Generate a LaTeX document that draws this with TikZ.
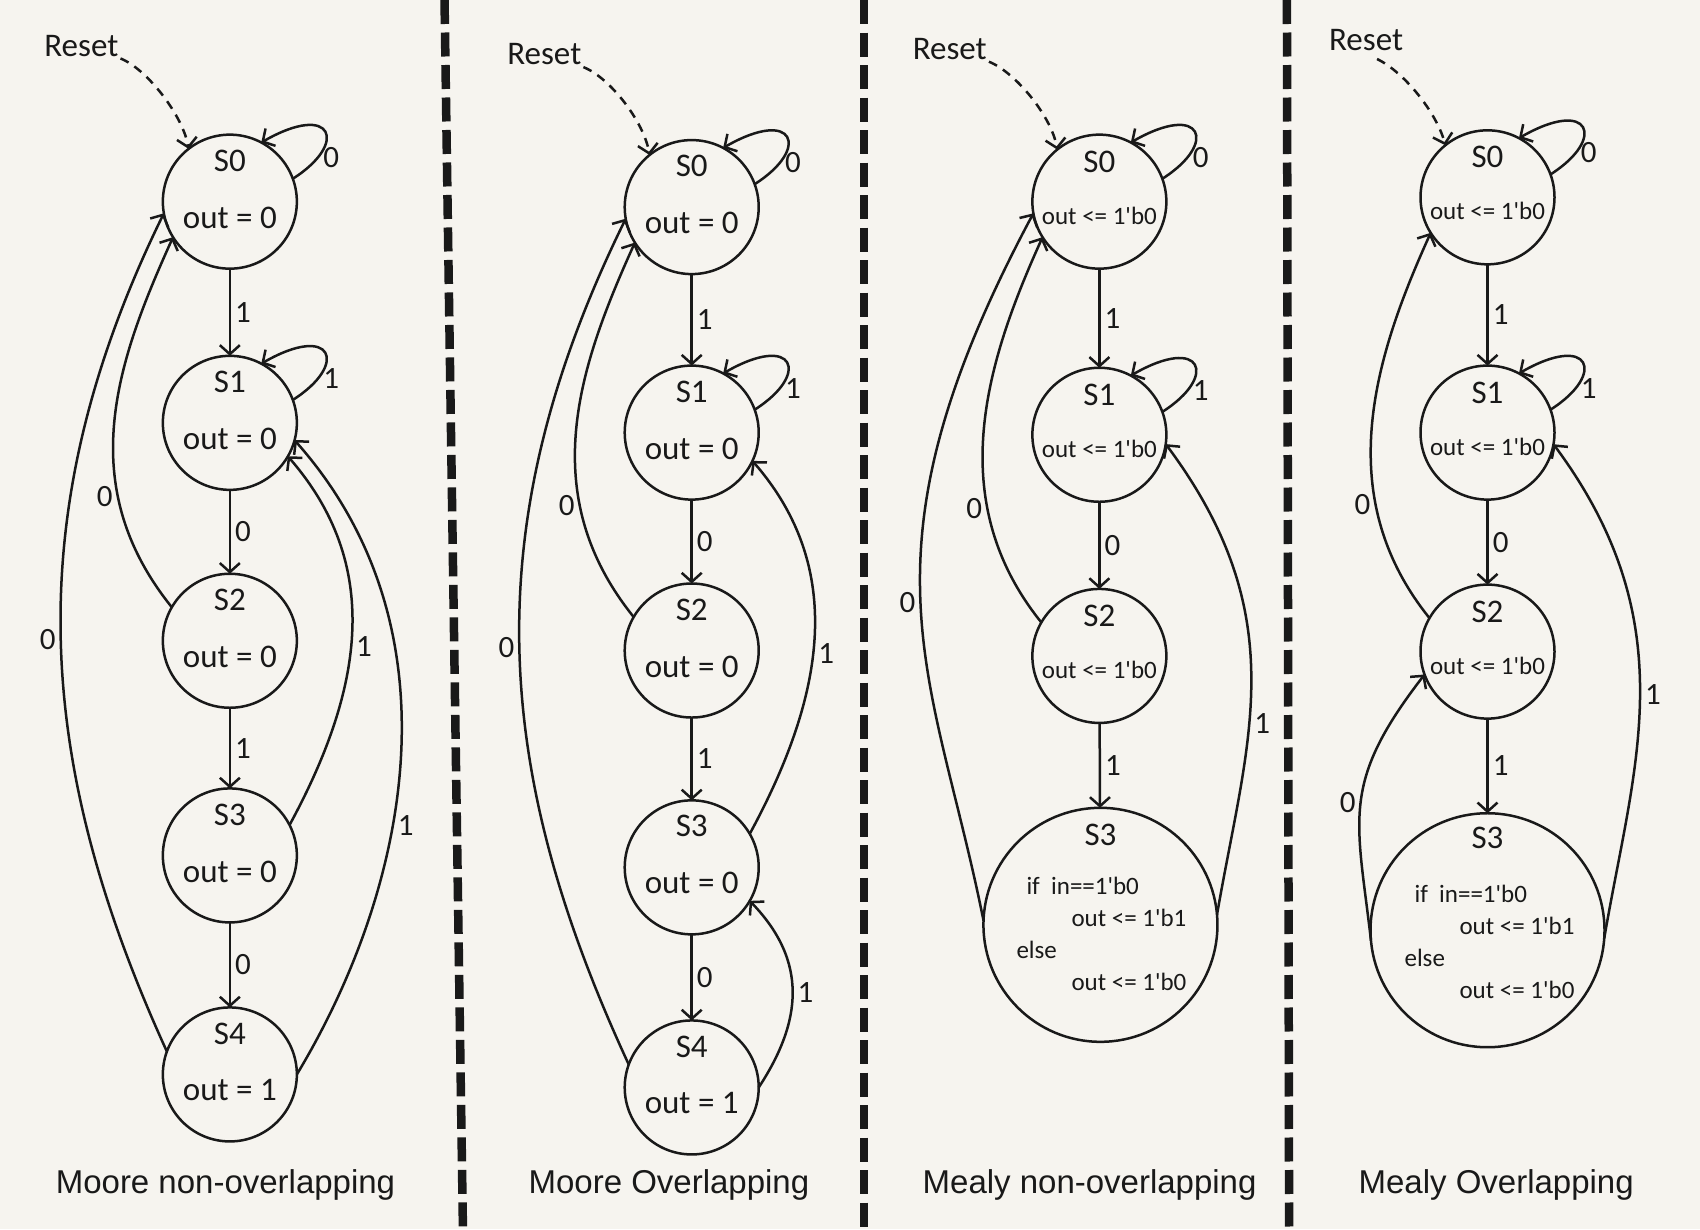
\documentclass[tikz,border=0pt]{standalone}
\usepackage{fontspec}
\setmainfont{Liberation Sans}
\newfontfamily\handfont{Carlito}
\usetikzlibrary{arrows.meta, positioning}

\definecolor{paper}{RGB}{246,244,239}
\definecolor{ink}{RGB}{25,25,25}

\tikzset{
  state/.style={circle, draw=ink, line width=2.5pt, minimum size=134pt,
    inner sep=0pt, outer sep=0pt},
  bigstate/.style={state, minimum size=234pt},
  hand/.style={font=\handfont\fontsize{33}{38}\selectfont, text=ink, inner sep=2pt},
  handsmall/.style={font=\handfont\fontsize{25}{32}\selectfont, text=ink, inner sep=2pt},
  lbl/.style={font=\handfont\fontsize{31}{34}\selectfont, text=ink, inner sep=4pt},
  trans/.style={draw=ink, line width=2.5pt, -{Straight Barb[length=9pt, width=20pt]}},
  resetline/.style={trans, dash pattern=on 9pt off 7pt},
  divider/.style={draw=ink, line width=8.5pt, dash pattern=on 24pt off 8.5pt},
  caption/.style={font=\fontsize{33}{38}\selectfont, text=ink}
}

\begin{document}
\begin{tikzpicture}[x=1.0842pt, y=1.0842pt]

  % Paper and frame.
  \useasboundingbox (0,0) rectangle (1568,-1134);
  \fill[paper] (0,0) rectangle (1568,-1134);

  % Thick dashed dividers between the four machines.
  \draw[divider] (410,0) -- (427,-1134);
  \draw[divider] (797,0) -- (797,-1134);
  \draw[divider] (1187,0) -- (1189,-1134);

  % ---------------- Moore non-overlapping ----------------
  \foreach \i/\y/\o in {0/186/0, 1/390/0, 2/591/0, 3/789/0, 4/991/1} {
    \node[state] (p1s\i) at (212,-\y) {};
    \node[hand] (p1n\i) at ([yshift=41pt]p1s\i.center) {S\i};
    \node[hand] (p1o\i) at ([yshift=-16pt]p1s\i.center) {out = \o};
  }
  \node[hand] (reset1) at (75,-42) {Reset};
  \draw[resetline] (reset1.south east) .. controls +(25,-10) and +(-5,30) .. (p1s0.128);

  \draw[trans] (p1s0) -- node[lbl, right] (p1l01) {1} (p1s1);
  \draw[trans] (p1s1) -- node[lbl, right] (p1l12) {0} (p1s2);
  \draw[trans] (p1s2) -- node[lbl, right] (p1l23) {1} (p1s3);
  \draw[trans] (p1s3) -- node[lbl, right] (p1l34) {0} (p1s4);
  \foreach \s/\l in {p1s0/0, p1s1/1}
    \draw[trans] (\s.20) .. controls +(52,33) and +(66,38) ..
      node[lbl, pos=.2, right] (\s-loop) {\l} (\s.62);
  \draw[trans] (p1s2.150) .. controls +(-91,113) and +(-52,-115) ..
    node[lbl, pos=.3, left] (p1l20) {0} (p1s0.212);
  \draw[trans] (p1s4.160) .. controls +(-120,263) and +(-137,-280) ..
    node[lbl, pos=.5, left] (p1l40) {0} (p1s0.190);
  \draw[trans] (p1s3.27) .. controls +(70,129) and +(86,-99) ..
    node[lbl, pos=.45, right] (p1l31) {1} (p1s1.330);
  \draw[trans] (p1s4.0) .. controls +(103,171) and +(155,-175) ..
    node[lbl, pos=.4, right] (p1l41) {1} (p1s1.345);

  \node[caption] (cap1) at (208,-1093) {Moore non-overlapping};

  % ---------------- Moore overlapping ----------------
  \foreach \i/\y/\o in {0/191/0, 1/399/0, 2/600/0, 3/800/0, 4/1003/1} {
    \node[state] (p2s\i) at (638,-\y) {};
    \node[hand] (p2n\i) at ([yshift=41pt]p2s\i.center) {S\i};
    \node[hand] (p2o\i) at ([yshift=-16pt]p2s\i.center) {out = \o};
  }
  \node[hand] (reset2) at (502,-50) {Reset};
  \draw[resetline] (reset2.south east) .. controls +(25,-10) and +(-5,30) .. (p2s0.129);

  \draw[trans] (p2s0) -- node[lbl, right] (p2l01) {1} (p2s1);
  \draw[trans] (p2s1) -- node[lbl, right] (p2l12) {0} (p2s2);
  \draw[trans] (p2s2) -- node[lbl, right] (p2l23) {1} (p2s3);
  \draw[trans] (p2s3) -- node[lbl, right] (p2l34) {0} (p2s4);
  \foreach \s/\l in {p2s0/0, p2s1/1}
    \draw[trans] (\s.20) .. controls +(52,33) and +(66,38) ..
      node[lbl, pos=.2, right] (\s-loop) {\l} (\s.62);
  \draw[trans] (p2s2.150) .. controls +(-91,113) and +(-52,-115) ..
    node[lbl, pos=.3, left] (p2l20) {0} (p2s0.212);
  \draw[trans] (p2s4.160) .. controls +(-125,270) and +(-140,-285) ..
    node[lbl, pos=.5, left] (p2l40) {0} (p2s0.190);
  \draw[trans] (p2s3.30) .. controls +(70,129) and +(86,-99) ..
    node[lbl, pos=.45, right] (p2l31) {1} (p2s1.335);
  \draw[trans] (p2s4.0) .. controls +(40,61) and +(54,-56) ..
    node[lbl, pos=.5, right] (p2l43) {1} (p2s3.330);

  \node[caption] (cap2) at (617,-1093) {Moore Overlapping};

  % ---------------- Mealy non-overlapping ----------------
  \foreach \i/\y in {0/186, 1/401, 2/605} {
    \node[state] (p3s\i) at (1014,-\y) {};
    \node[hand] (p3n\i) at ([yshift=40pt]p3s\i.center) {S\i};
    \node[handsmall] (p3o\i) at ([yshift=-14pt]p3s\i.center) {out <= 1'b0};
  }
  \node[bigstate] (p3s3) at (1015,-853) {};
  \node[hand] (p3n3) at ([yshift=90pt]p3s3.center) {S3};
  \node[handsmall, align=left] (p3o3) at ([xshift=1pt, yshift=-9pt]p3s3.center)
    {\hspace*{0.4em}if\ \ in==1'b0\\ \hspace*{2.2em}out <= 1'b1\\ else\\ \hspace*{2.2em}out <= 1'b0};
  \node[hand] (reset3) at (876,-45) {Reset};
  \draw[resetline] (reset3.south east) .. controls +(25,-10) and +(-5,30) .. (p3s0.129);

  \draw[trans] (p3s0) -- node[lbl, right] (p3l01) {1} (p3s1);
  \draw[trans] (p3s1) -- node[lbl, right] (p3l12) {0} (p3s2);
  \draw[trans] (p3s2) -- node[lbl, right] (p3l23) {1} (p3s3);
  \foreach \s/\l in {p3s0/0, p3s1/1}
    \draw[trans] (\s.20) .. controls +(52,33) and +(66,38) ..
      node[lbl, pos=.2, right] (\s-loop) {\l} (\s.62);
  \draw[trans] (p3s2.150) .. controls +(-91,113) and +(-52,-115) ..
    node[lbl, pos=.3, left] (p3l20) {0} (p3s0.212);
  \draw[trans] (p3s3.178) .. controls +(-46,230) and +(-170,-318) ..
    node[lbl, pos=.5, left] (p3l30) {0} (p3s0.190);
  \draw[trans] (p3s3.5) .. controls +(28,162) and +(119,-160) ..
    node[lbl, pos=.4, right] (p3l31) {1} (p3s1.352);

  \node[caption] (cap3) at (1005,-1093) {Mealy non-overlapping};

  % ---------------- Mealy overlapping ----------------
  \foreach \i/\y in {0/182, 1/399, 2/601} {
    \node[state] (p4s\i) at (1372,-\y) {};
    \node[hand] (p4n\i) at ([yshift=40pt]p4s\i.center) {S\i};
    \node[handsmall] (p4o\i) at ([yshift=-14pt]p4s\i.center) {out <= 1'b0};
  }
  \node[bigstate] (p4s3) at (1372,-858) {};
  \node[hand] (p4n3) at ([yshift=92pt]p4s3.center) {S3};
  \node[handsmall, align=left] (p4o3) at ([xshift=2pt, yshift=-12pt]p4s3.center)
    {\hspace*{0.4em}if\ \ in==1'b0\\ \hspace*{2.2em}out <= 1'b1\\ else\\ \hspace*{2.2em}out <= 1'b0};
  \node[hand] (reset4) at (1260,-37) {Reset};
  \draw[resetline] ([xshift=11pt, yshift=-6pt]reset4.south) .. controls +(25,-12) and +(-8,30) .. (p4s0.129);

  \draw[trans] (p4s0) -- node[lbl, right] (p4l01) {1} (p4s1);
  \draw[trans] (p4s1) -- node[lbl, right] (p4l12) {0} (p4s2);
  \draw[trans] (p4s2) -- node[lbl, right] (p4l23) {1} (p4s3);
  \foreach \s/\l in {p4s0/0, p4s1/1}
    \draw[trans] (\s.20) .. controls +(52,33) and +(66,38) ..
      node[lbl, pos=.2, right] (\s-loop) {\l} (\s.62);
  \draw[trans] (p4s2.150) .. controls +(-91,113) and +(-52,-115) ..
    node[lbl, pos=.3, left] (p4l20) {0} (p4s0.212);
  \draw[trans] (p4s3.185) .. controls +(-13,113) and +(-78,-101) ..
    node[lbl, pos=.5, left] (p4l32) {0} (p4s2.200);
  \draw[trans] (p4s3.356) .. controls +(27,159) and +(123,-166) ..
    node[lbl, pos=.5, right] (p4l31) {1} (p4s1.350);

  \node[caption] (cap4) at (1380,-1093) {Mealy Overlapping};

\end{tikzpicture}
\end{document}
